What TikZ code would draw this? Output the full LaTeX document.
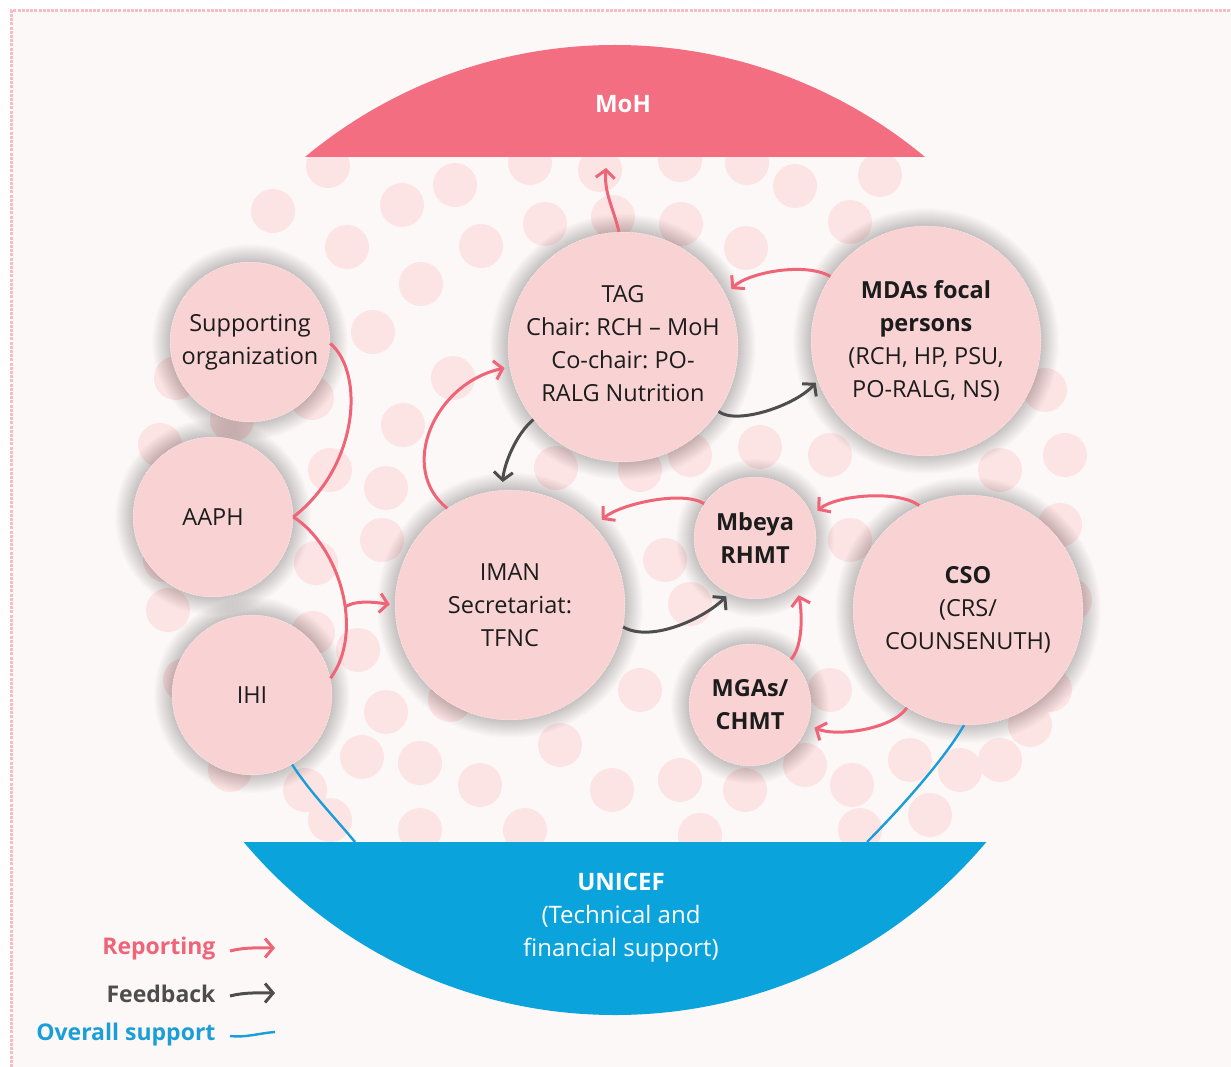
\documentclass[tikz,border=0pt]{standalone}
\usepackage{fontspec}
\setmainfont{Open Sans}
\usetikzlibrary{arrows.meta}
\definecolor{bgc}{HTML}{FCF8F8}
\definecolor{palec}{HTML}{FDE4E4}
\definecolor{nodec}{HTML}{F9D3D4}
\definecolor{mohc}{HTML}{F26E80}
\definecolor{unic}{HTML}{0BA3DB}
\definecolor{repc}{HTML}{EF6577}
\definecolor{fbc}{HTML}{4D4D4D}
\definecolor{supc}{HTML}{1B9ED8}
\definecolor{borderc}{HTML}{F8BDC4}
\definecolor{txtc}{HTML}{1C1C1C}
\newcommand\halo[3]{\foreach \d in {1,2,...,18}{\fill[black,opacity=0.011] (#1,#2) circle[radius={#3+\d}];}}
\frenchspacing
\tikzset{
  org/.style={circle, fill=nodec, draw=white, densely dotted, line width=0.5pt, text=txtc, align=center, inner sep=0pt, font=\fontsize{23.5}{33}\selectfont},
  bigorg/.style={org, minimum size=230pt},
  midorg/.style={org, minimum size=160pt},
  smallorg/.style={org, minimum size=122pt},
  orgtext/.style={text=txtc, align=center, inner sep=0pt, font=\fontsize{23.5}{33}\selectfont},
  rep/.style={draw=repc, line width=3pt, -{Straight Barb[length=8pt,width=19pt]}},
  fb/.style={draw=fbc, line width=3pt, -{Straight Barb[length=8pt,width=19pt]}},
  sup/.style={draw=supc, line width=2.4pt},
  hdr/.style={text=white, align=center, font=\fontsize{24}{33}\selectfont},
  leg/.style={anchor=east, font=\fontsize{23}{33}\selectfont\bfseries}
}
\begin{document}
\begin{tikzpicture}[x=1pt,y=-1pt]
\useasboundingbox (0,0) rectangle (1231,1067);
\fill[white] (0,0) rectangle (1231,1067);
\fill[bgc] (11,11) rectangle (1231,1067);
\draw[borderc, line width=3pt, dash pattern=on 3pt off 1.2pt] (11,1067) -- (11,11) -- (1231,11);
% decorative circles
\foreach \x/\y in {328/166,402/205,273/211,347/247,421/284,481/246,545/224,613/217,681/224,747/163,795/186,746/248,850/222,880/263,530/163,680/160,455/185,
176/378,232/420,160/445,312/398,373/332,403/425,453/378,386/488,330/470,165/560,316/563,382/540,313/633,168/610,358/650,386/712,305/790,362/757,420/763,480/785,525/830,
560/745,612/790,680/780,745/790,805/765,852/785,556/468,640/470,690/455,760/447,830/455,850/540,665/560,690/604,640/690,560/660,830/690,
1065/455,1060/525,1045/390,1050/690,1030/725,960/770,910/760,1070/600,1000/470,1000/760,450/700,330/820,420/830,700/835,860/830,930/815,185/680,230/770,600/170,880/175}
  \fill[palec] (\x,\y) circle[radius=22];
% MoH and UNICEF segments
\begin{scope}
\clip (0,0) rectangle (1231,157);
\fill[mohc] (615,530) circle[radius=485];
\end{scope}
\begin{scope}
\clip (0,842) rectangle (1231,1067);
\fill[unic] (615,530) circle[radius=485];
\end{scope}
\node[hdr, font=\fontsize{24}{33}\selectfont\bfseries] (moh) at (623,104) {MoH};
\node[hdr] (unicef) at (621,918) {\textbf{UNICEF}\\(Technical and\\financial support)};
\coordinate (mohb) at (606,168);
\coordinate (uniL) at (355,842);
\coordinate (uniR) at (867,842);
% shadows
\halo{250}{342}{80}
\halo{213}{517}{80}
\halo{252}{695}{80}
\halo{623}{347}{115}
\halo{926}{341}{115}
\halo{510}{605}{115}
\halo{968}{610}{115}
\halo{755}{538}{61}
\halo{750}{705}{61}
% nodes
\node[midorg] (supp) at (250,342) {Supporting\\organization};
\node[midorg] (aaph) at (213,517) {AAPH};
\node[midorg] (ihi) at (252,695) {IHI};
\node[bigorg] (tag) at (623,347) {};
\node[orgtext] (tagtext) at (623,344) {TAG\\Chair: RCH – MoH\\Co-chair: PO-\\RALG Nutrition};
\node[bigorg] (mdas) at (926,341) {\textbf{MDAs focal}\\\textbf{persons}\\(RCH, HP, PSU,\\PO-RALG, NS)};
\node[bigorg] (iman) at (510,605) {IMAN\\Secretariat:\\TFNC};
\node[bigorg] (cso) at (968,610) {\textbf{CSO}\\(CRS/\\COUNSENUTH)};
\node[smallorg] (mbeya) at (755,538) {\textbf{Mbeya}\\\textbf{RHMT}};
\node[smallorg] (mgas) at (750,705) {\textbf{MGAs/}\\\textbf{CHMT}};
% reporting arrows
\draw[rep] (tag.92) .. controls +(-6,-25) and +(-2,25) .. (mohb);
\draw[rep, shorten >=8pt] (mdas.146) .. controls +(-25,-15) and +(22,-22) .. (tag.27);
\draw[rep, shorten >=5pt] (iman.123) .. controls +(-50,-40) and +(-75,16) .. (tag.190);
\draw[repc, line width=3pt] (supp.-1) .. controls +(35,30) and +(65,-50) .. (aaph.0);
\draw[repc, line width=3pt] (aaph.0) .. controls +(45,28) and +(35,-48) .. (ihi.12);
\coordinate (brk) at (345,607);
\draw[rep, shorten >=5pt] (brk) .. controls +(12,-8) and +(-15,-2) .. (iman.180);
\draw[rep, shorten >=10pt] (mbeya.146) .. controls +(-22,-14) and +(25,-22) .. (iman.43);
\draw[rep, shorten >=7pt] (cso.115) .. controls +(-22,-16) and +(25,-20) .. (mbeya.22);
\draw[rep, shorten >=12pt] (mgas.48) .. controls +(14,-16) and +(5,22) .. (mbeya.-48);
\draw[rep, shorten >=7pt] (cso.238) .. controls +(-15,22) and +(28,12) .. (mgas.-19);
% feedback arrows
\draw[fb, shorten >=3pt] (tag.-34) .. controls +(18,14) and +(-22,25) .. (mdas.200);
\draw[fb, shorten >=8pt] (tag.219) .. controls +(-18,15) and +(2,-25) .. (iman.94);
\draw[fb, shorten >=4pt] (iman.-11) .. controls +(28,16) and +(-25,25) .. (mbeya.245);
% overall support
\draw[sup] (ihi.-60) .. controls +(18,28) and +(-18,-22) .. (uniL);
\draw[sup] (cso.268) .. controls +(-22,38) and +(25,-25) .. (uniR);
% legend
\node[leg, text=repc] (lrep) at (219,949) {Reporting};
\node[leg, text=fbc] (lfb) at (219,994) {Feedback};
\node[leg, text=supc] (lsup) at (219,1035) {Overall support};
\coordinate (lr1) at (230,951); \coordinate (lr2) at (275,948);
\coordinate (lf1) at (230,996); \coordinate (lf2) at (275,993);
\coordinate (ls1) at (230,1036); \coordinate (ls2) at (275,1032);
\draw[rep] (lr1) .. controls +(15,-4) and +(-15,0) .. (lr2);
\draw[fb] (lf1) .. controls +(15,-4) and +(-15,0) .. (lf2);
\draw[sup] (ls1) .. controls +(15,2) and +(-15,1) .. (ls2);
\end{tikzpicture}
\end{document}
